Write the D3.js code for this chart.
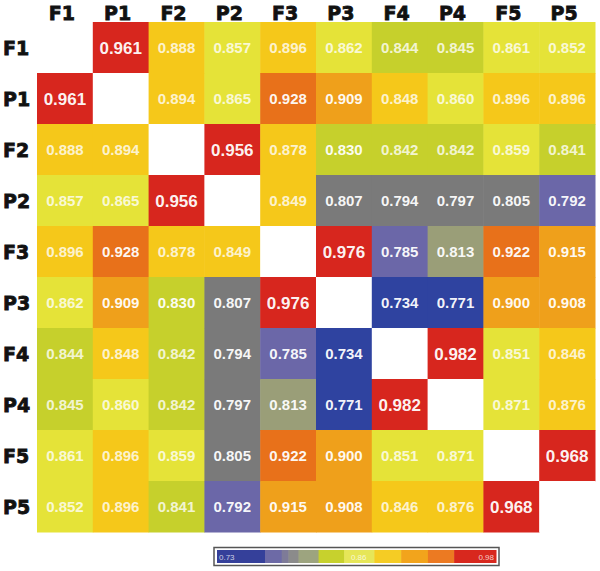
<!DOCTYPE html>
<html>
<head>
<meta charset="utf-8">
<script src="https://cdn.jsdelivr.net/npm/d3@7"></script>
<style>
  body { margin: 0; background: #fff; }
</style>
</head>
<body>
<div id="plot"></div>
<script>
// labels for rows and columns (same order)
const labels = ["F1", "P1", "F2", "P2", "F3", "P3", "F4", "P4", "F5", "P5"];

// correlation matrix, null on the diagonal
const rowF1 = [null, 0.961, 0.888, 0.857, 0.896, 0.862, 0.844, 0.845, 0.861, 0.852];
const rowP1 = [0.961, null, 0.894, 0.865, 0.928, 0.909, 0.848, 0.860, 0.896, 0.896];
const rowF2 = [0.888, 0.894, null, 0.956, 0.878, 0.830, 0.842, 0.842, 0.859, 0.841];
const rowP2 = [0.857, 0.865, 0.956, null, 0.849, 0.807, 0.794, 0.797, 0.805, 0.792];
const rowF3 = [0.896, 0.928, 0.878, 0.849, null, 0.976, 0.785, 0.813, 0.922, 0.915];
const rowP3 = [0.862, 0.909, 0.830, 0.807, 0.976, null, 0.734, 0.771, 0.900, 0.908];
const rowF4 = [0.844, 0.848, 0.842, 0.794, 0.785, 0.734, null, 0.982, 0.851, 0.846];
const rowP4 = [0.845, 0.860, 0.842, 0.797, 0.813, 0.771, 0.982, null, 0.871, 0.876];
const rowF5 = [0.861, 0.896, 0.859, 0.805, 0.922, 0.900, 0.851, 0.871, null, 0.968];
const rowP5 = [0.852, 0.896, 0.841, 0.792, 0.915, 0.908, 0.846, 0.876, 0.968, null];
const matrix = [rowF1, rowP1, rowF2, rowP2, rowF3, rowP3, rowF4, rowP4, rowF5, rowP5];

// colour bins used for the cells
const cellThresholds = [0.773, 0.7935, 0.81, 0.82, 0.8455, 0.8505, 0.873, 0.898, 0.918, 0.94];
const cellColors = ["#2f43a0", "#6b67a8", "#7a7a7a", "#9a9e78", "#c6d02c", "#f5c81a",
                    "#e5e338", "#f5c81a", "#efa01b", "#e8711a", "#d7261e"];

// colour bar segments
const legendBreaks = [0.73, 0.773, 0.788, 0.794, 0.803, 0.821, 0.844, 0.871, 0.895, 0.919, 0.9425, 0.98];
const legendColors = ["#35409a", "#6d6aa6", "#7e7b98", "#8b8b8b", "#9da47f", "#c7d12d",
                      "#e6e658", "#f5cc24", "#f2a41c", "#ec7a22", "#d8281e"];
const legendLabels = [{ v: 0.73, t: "0.73" }, { v: 0.857, t: "0.86" }, { v: 0.98, t: "0.98" }];

const width = 600, height = 571;
const grid = { left: 37, right: 595, top: 22, bottom: 532 };

const svg = d3.select("#plot").append("svg")
  .attr("width", width)
  .attr("height", height);

const x = d3.scaleBand().domain(labels).range([grid.left, grid.right]);
const y = d3.scaleBand().domain(labels).range([grid.top, grid.bottom]);
const color = d3.scaleThreshold().domain(cellThresholds).range(cellColors);

const cells = [];
matrix.forEach((row, i) => {
  row.forEach((v, j) => {
    cells.push({ row: labels[i], col: labels[j], value: v });
  });
});

// cells
svg.append("g").selectAll("rect")
  .data(cells)
  .join("rect")
  .attr("x", d => x(d.col))
  .attr("y", d => y(d.row))
  .attr("width", x.bandwidth() + 0.5)
  .attr("height", y.bandwidth() + 0.5)
  .attr("fill", d => d.value == null ? "#fff" : color(d.value));

// values
svg.append("g").selectAll("text")
  .data(cells.filter(d => d.value != null))
  .join("text")
  .attr("x", d => x(d.col) + x.bandwidth() / 2)
  .attr("y", d => y(d.row) + y.bandwidth() / 2 + 2)
  .attr("text-anchor", "middle")
  .attr("dominant-baseline", "middle")
  .style("font-family", "'Liberation Sans', Arial, sans-serif")
  .style("font-weight", "bold")
  .style("font-size", d => d.value > 0.94 ? "17px" : "15px")
  .attr("fill", "#fff")
  .attr("fill-opacity", d => (d.value > 0.84 && d.value < 0.9) ? 0.8 : 0.95)
  .text(d => d3.format(".3f")(d.value));

// column headers
svg.append("g").selectAll("text")
  .data(labels)
  .join("text")
  .attr("x", d => x(d) + x.bandwidth() / 2 - 3)
  .attr("y", 20)
  .attr("text-anchor", "middle")
  .style("font-family", "'DejaVu Sans', sans-serif")
  .style("font-weight", "bold")
  .style("font-size", "19px")
  .attr("fill", "#111")
  .attr("stroke", "#111")
  .attr("stroke-width", 0.8)
  .text(d => d);

// row headers
svg.append("g").selectAll("text")
  .data(labels)
  .join("text")
  .attr("x", 3)
  .attr("y", d => y(d) + y.bandwidth() / 2 + 2)
  .attr("dominant-baseline", "middle")
  .style("font-family", "'DejaVu Sans', sans-serif")
  .style("font-weight", "bold")
  .style("font-size", "19px")
  .attr("fill", "#111")
  .attr("stroke", "#111")
  .attr("stroke-width", 0.8)
  .text(d => d);

// colour bar
const lx = d3.scaleLinear().domain([0.73, 0.98]).range([217, 496]);
const legend = svg.append("g");
legend.append("rect")
  .attr("x", lx(0.73) - 3).attr("y", 547.5)
  .attr("width", lx(0.98) - lx(0.73) + 6).attr("height", 18)
  .attr("fill", "#fff").attr("stroke", "#555").attr("stroke-width", 1.5);

legend.selectAll(".seg")
  .data(legendColors)
  .join("rect")
  .attr("class", "seg")
  .attr("x", (d, i) => lx(legendBreaks[i]))
  .attr("y", 550)
  .attr("width", (d, i) => lx(legendBreaks[i + 1]) - lx(legendBreaks[i]) + 0.5)
  .attr("height", 13)
  .attr("fill", d => d);

legend.selectAll(".lbl")
  .data(legendLabels)
  .join("text")
  .attr("class", "lbl")
  .attr("x", d => lx(d.v) + (d.v === 0.73 ? 2 : d.v === 0.98 ? -2 : 0))
  .attr("y", 559.5)
  .attr("text-anchor", d => d.v === 0.73 ? "start" : d.v === 0.98 ? "end" : "middle")
  .style("font-family", "'Liberation Sans', Arial, sans-serif")
  .style("font-size", "8px")
  .attr("fill", "#fff")
  .attr("fill-opacity", 0.75)
  .text(d => d.t);
</script>
</body>
</html>
